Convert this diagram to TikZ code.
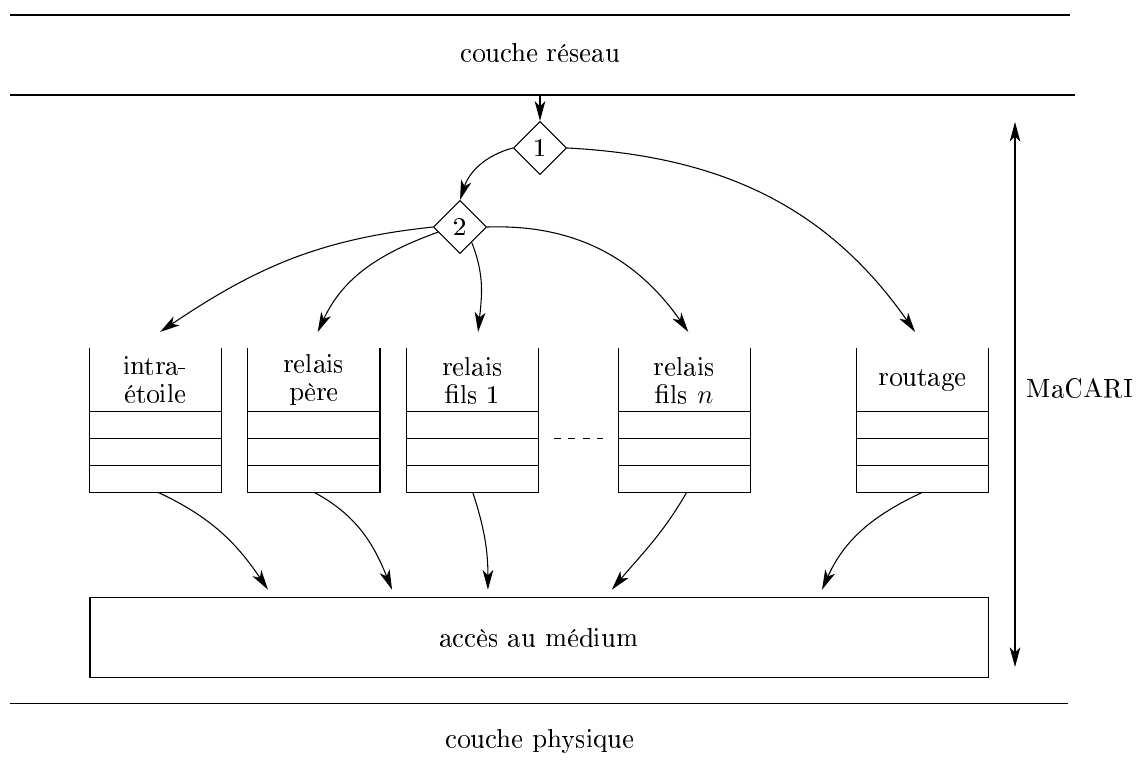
\documentclass[tikz,border=0pt]{standalone}
\usepackage[T1]{fontenc}
\usetikzlibrary{arrows.meta,positioning,shapes.geometric}

\begin{document}
\begin{tikzpicture}[
  tip/.tip={Stealth[length=2.6mm,width=1.4mm,inset=0.7mm]},
  flow/.style={-tip},
  choice/.style={
    draw,
    diamond,
    minimum size=0.7cm,
    inner sep=0pt
  },
  queuehead/.style={
    minimum width=1.74cm,
    minimum height=0.842cm,
    inner sep=0pt,
    outer sep=0pt,
    align=center,
    font=\fontsize{10pt}{10.5pt}\selectfont
  },
  cell/.style={
    draw,
    minimum width=1.74cm,
    minimum height=0.352cm,
    inner sep=0pt,
    outer sep=0pt
  }
]
  \useasboundingbox (0,0) rectangle (14.947,-10.21);

  % couches
  \draw (0.13,-0.197) -- (14.08,-0.197);
  \node (reseau) at (7.105,-0.684) {couche réseau};
  \draw (0.13,-1.25) -- (14.14,-1.25);
  \draw (0.13,-9.25) -- (14.05,-9.25);
  \node (physique) at (7.105,-9.75) {couche physique};

  % aiguillage
  \coordinate (entree) at (7.105,-1.25);
  \node[choice] (d1) at (7.105,-1.947) {1};
  \node[choice] (d2) at (6.053,-2.987) {2};

  % files
  \foreach \q/\x/\txt in {intra/2.046/{intra-\\étoile},
                          pere/4.13/{relais\\père},
                          fils1/6.22/{relais\\fils 1},
                          filsn/9.006/{relais\\fils $n$},
                          rout/12.14/{routage}} {
    \node[queuehead] (\q) at (\x,-4.999) {\txt};
    \draw (\q.north west) -- (\q.south west) (\q.north east) -- (\q.south east);
    \foreach \i/\y in {1/-5.596,2/-5.948,3/-6.300}
      \node[cell] (\q-\i) at (\x,\y) {};
  }
  \draw[dash pattern=on 2.6pt off 2.8pt] ([xshift=2mm]fils1-1.south east) -- ([xshift=-2mm]filsn-1.south west);

  \node[draw,minimum width=11.816cm,minimum height=1.053cm] (medium) at (7.092,-8.382) {accès au médium};

  % fleches
  \draw[flow] (entree) -- (d1.north);
  \draw[flow] (d1.west) to[out=195,in=72] (d2.north);
  \draw[flow] (d1.east) to[out=-3,in=125] ([xshift=-1mm,yshift=2.1mm]rout.north);
  \draw[flow] (d2.west) to[out=186,in=34] ([xshift=0.6mm,yshift=2.1mm]intra.north);
  \draw[flow] (d2.193) to[out=200,in=65] ([xshift=0.5mm,yshift=2.1mm]pere.north);
  \draw[flow] (d2.307) to[out=-68,in=84] ([xshift=0.7mm,yshift=2.1mm]fils1.north);
  \draw[flow] (d2.east) to[out=2,in=125] ([xshift=0.5mm,yshift=2.1mm]filsn.north);

  \draw[flow] ([xshift=0.3mm]intra-3.south) to[out=-25,in=124] ([xshift=-3.566cm,yshift=0.9mm]medium.north);
  \draw[flow] (pere-3.south) to[out=-28,in=112] ([xshift=-1.934cm,yshift=0.9mm]medium.north);
  \draw[flow] (fils1-3.south) to[out=-72,in=90] ([xshift=-0.672cm,yshift=0.9mm]medium.north);
  \draw[flow] ([xshift=0.3mm]filsn-3.south) to[out=-120,in=50] ([xshift=0.958cm,yshift=0.9mm]medium.north);
  \draw[flow] (rout-3.south) to[out=-155,in=66] ([xshift=3.724cm,yshift=0.9mm]medium.north);

  % MaCARI
  \coordinate (mhaut) at (13.355,-1.605);
  \coordinate (mbas) at (13.355,-8.776);
  \draw[tip-tip] (mhaut) -- (mbas);
  \node (macari) at (14.21,-5.105) {MaCARI};
\end{tikzpicture}
\end{document}
